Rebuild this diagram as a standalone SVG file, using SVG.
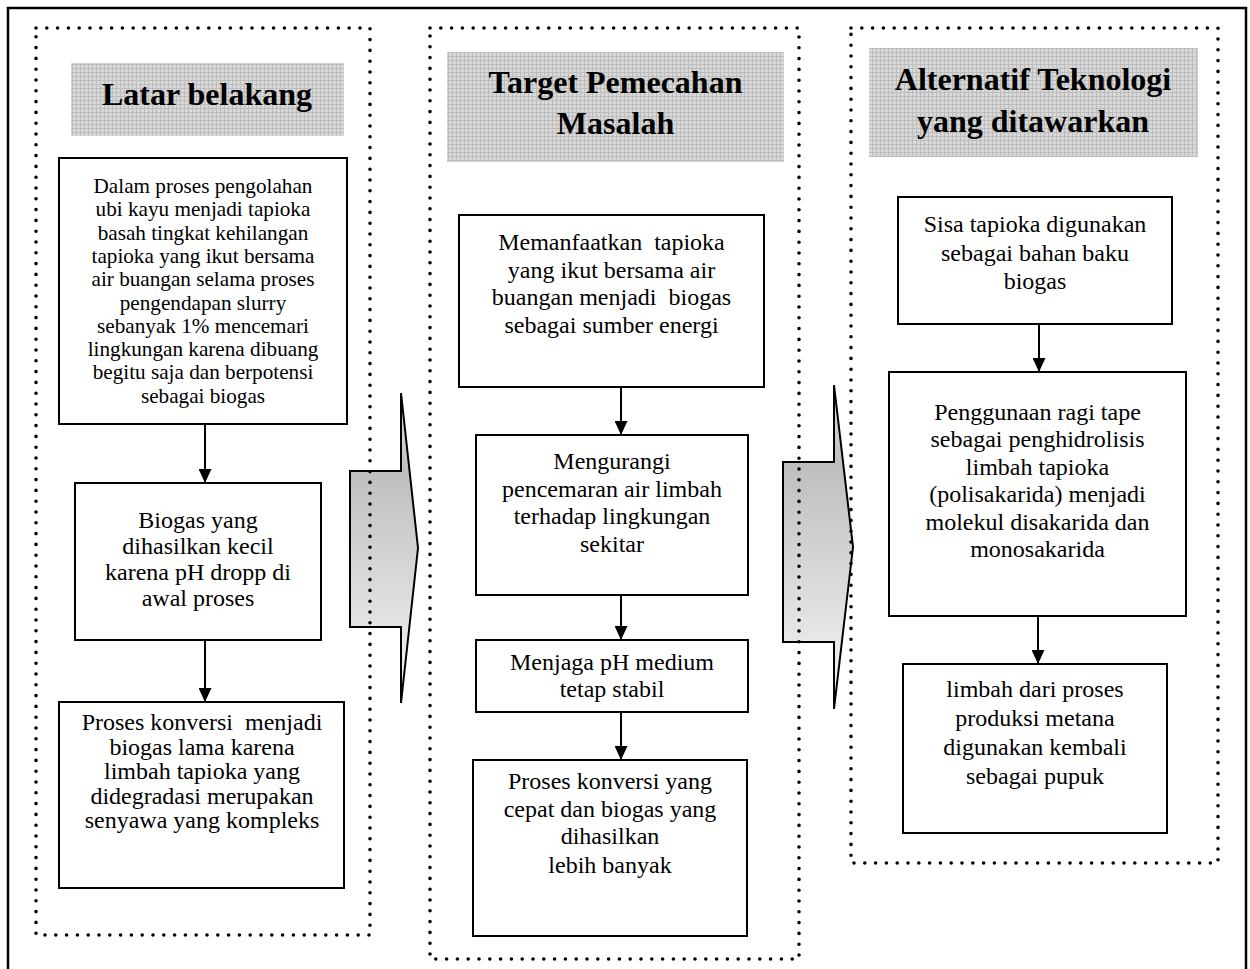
<svg xmlns="http://www.w3.org/2000/svg" width="1250" height="969" viewBox="0 0 1250 969">
<style>
.frame{fill:none;stroke:#000;stroke-width:2.5}
.dots{fill:none;stroke:#000;stroke-width:3.6;stroke-linecap:round;stroke-dasharray:0 10.8}
.hdr{fill:url(#grid);stroke:none}
.box{fill:#fff;stroke:#000;stroke-width:2}
.big{stroke:#000;stroke-width:2;stroke-linejoin:miter}
.conn{stroke:#000;stroke-width:2;fill:none;marker-end:url(#ah)}
.ht{font-family:"Liberation Serif","Times New Roman",serif;font-weight:bold;font-size:32px;fill:#000;text-anchor:middle}
.t{font-family:"Liberation Serif","Times New Roman",serif;font-size:24px;fill:#000;text-anchor:middle}
.s{font-family:"Liberation Serif","Times New Roman",serif;font-size:21.2px;fill:#000;text-anchor:middle}
</style>
<defs>
<pattern id="grid" width="4" height="4" patternUnits="userSpaceOnUse">
<rect width="4" height="4" fill="#d8d8d8"/>
<path d="M0 0.5H4M0.5 0V4" stroke="#bdbdbd" stroke-width="1"/>
</pattern>
<linearGradient id="gradA" gradientUnits="userSpaceOnUse" x1="0" y1="393" x2="0" y2="703">
<stop offset="0" stop-color="#e6e6e6"/>
<stop offset="0.25" stop-color="#bebebe"/>
<stop offset="1" stop-color="#f7f7f7"/>
</linearGradient>
<linearGradient id="gradB" gradientUnits="userSpaceOnUse" x1="0" y1="385" x2="0" y2="709">
<stop offset="0" stop-color="#e6e6e6"/>
<stop offset="0.24" stop-color="#bebebe"/>
<stop offset="1" stop-color="#f7f7f7"/>
</linearGradient>
<marker id="ah" viewBox="0 0 14 13" refX="14" refY="6.5" markerWidth="14" markerHeight="13" orient="auto" markerUnits="userSpaceOnUse">
<path d="M0,0 L14,6.5 L0,13 z" fill="#000"/>
</marker>
</defs>
<rect x="8" y="8" width="1238" height="975" class="frame"/>

<g id="bigarrows">
<path class="big" fill="url(#gradA)" d="M350,471 H401 V393 L418,548 L401,703 V627 H350 Z"/>
<path class="big" fill="url(#gradB)" d="M783,462 H834 V385 L853,547 L834,709 V642 H783 Z"/>
</g>

<g id="col1">
<rect class="dots" x="36" y="28" width="334" height="907"/>
<g id="h1"><rect class="hdr" x="71" y="63" width="273" height="73"/><text class="ht" x="207" y="105">Latar belakang</text></g>
<g id="b1"><rect class="box" x="59" y="158" width="288" height="266"/>
<text class="s" x="203" y="193">Dalam proses pengolahan</text>
<text class="s" x="203" y="216.3">ubi kayu menjadi tapioka</text>
<text class="s" x="203" y="239.6">basah tingkat kehilangan</text>
<text class="s" x="203" y="262.9">tapioka yang ikut bersama</text>
<text class="s" x="203" y="286.2">air buangan selama proses</text>
<text class="s" x="203" y="309.5">pengendapan slurry</text>
<text class="s" x="203" y="332.8">sebanyak 1% mencemari</text>
<text class="s" x="203" y="356.1">lingkungan karena dibuang</text>
<text class="s" x="203" y="379.4">begitu saja dan berpotensi</text>
<text class="s" x="203" y="402.7">sebagai biogas</text>
</g>
<g id="b2"><rect class="box" x="75" y="483" width="246" height="157"/>
<text class="t" x="198" y="528">Biogas yang</text>
<text class="t" x="198" y="554">dihasilkan kecil</text>
<text class="t" x="198" y="580">karena pH dropp di</text>
<text class="t" x="198" y="606">awal proses</text>
</g>
<g id="b3"><rect class="box" x="59" y="702" width="285" height="186"/>
<text class="t" x="202" y="730" xml:space="preserve">Proses konversi  menjadi</text>
<text class="t" x="202" y="754.5">biogas lama karena</text>
<text class="t" x="202" y="779">limbah tapioka yang</text>
<text class="t" x="202" y="803.5">didegradasi merupakan</text>
<text class="t" x="202" y="828">senyawa yang kompleks</text>
</g>
</g>

<g id="col2">
<rect class="dots" x="430" y="28" width="369" height="931"/>
<g id="h2"><rect class="hdr" x="447" y="52" width="337" height="110"/>
<text class="ht" x="615.5" y="93">Target Pemecahan</text>
<text class="ht" x="615.5" y="134">Masalah</text></g>
<g id="m1"><rect class="box" x="459" y="215" width="305" height="172"/>
<text class="t" x="611.5" y="250" xml:space="preserve">Memanfaatkan  tapioka</text>
<text class="t" x="611.5" y="277.7">yang ikut bersama air</text>
<text class="t" x="611.5" y="305.4" xml:space="preserve">buangan menjadi  biogas</text>
<text class="t" x="611.5" y="333.1">sebagai sumber energi</text>
</g>
<g id="m2"><rect class="box" x="476" y="435" width="272" height="160"/>
<text class="t" x="612" y="469">Mengurangi</text>
<text class="t" x="612" y="496.7">pencemaran air limbah</text>
<text class="t" x="612" y="524.4">terhadap lingkungan</text>
<text class="t" x="612" y="552.1">sekitar</text>
</g>
<g id="m3"><rect class="box" x="476" y="640" width="272" height="72"/>
<text class="t" x="612" y="670">Menjaga pH medium</text>
<text class="t" x="612" y="697">tetap stabil</text>
</g>
<g id="m4"><rect class="box" x="473" y="760" width="274" height="176"/>
<text class="t" x="610" y="789">Proses konversi yang</text>
<text class="t" x="610" y="816.5">cepat dan biogas yang</text>
<text class="t" x="610" y="844">dihasilkan</text>
<text class="t" x="610" y="873">lebih banyak</text>
</g>
</g>

<g id="col3">
<rect class="dots" x="851" y="28" width="367" height="835"/>
<g id="h3"><rect class="hdr" x="869" y="48" width="329" height="109"/>
<text class="ht" x="1033" y="90">Alternatif Teknologi</text>
<text class="ht" x="1033" y="132">yang ditawarkan</text></g>
<g id="r1"><rect class="box" x="898" y="197" width="274" height="127"/>
<text class="t" x="1035" y="232">Sisa tapioka digunakan</text>
<text class="t" x="1035" y="260.5">sebagai bahan baku</text>
<text class="t" x="1035" y="289">biogas</text>
</g>
<g id="r2"><rect class="box" x="889" y="372" width="297" height="244"/>
<text class="t" x="1037.5" y="420">Penggunaan ragi tape</text>
<text class="t" x="1037.5" y="447.4">sebagai penghidrolisis</text>
<text class="t" x="1037.5" y="474.8">limbah tapioka</text>
<text class="t" x="1037.5" y="502.2">(polisakarida) menjadi</text>
<text class="t" x="1037.5" y="529.6">molekul disakarida dan</text>
<text class="t" x="1037.5" y="557">monosakarida</text>
</g>
<g id="r3"><rect class="box" x="903" y="664" width="264" height="169"/>
<text class="t" x="1035" y="697">limbah dari proses</text>
<text class="t" x="1035" y="726">produksi metana</text>
<text class="t" x="1035" y="755">digunakan kembali</text>
<text class="t" x="1035" y="784">sebagai pupuk</text>
</g>
</g>

<g id="connectors">
<line class="conn" x1="205" y1="425" x2="205" y2="483"/>
<line class="conn" x1="205" y1="641" x2="205" y2="702"/>
<line class="conn" x1="621" y1="388" x2="621" y2="435"/>
<line class="conn" x1="621" y1="596" x2="621" y2="640"/>
<line class="conn" x1="621" y1="713" x2="621" y2="760"/>
<line class="conn" x1="1039" y1="325" x2="1039" y2="372"/>
<line class="conn" x1="1038" y1="617" x2="1038" y2="664"/>
</g>
</svg>
